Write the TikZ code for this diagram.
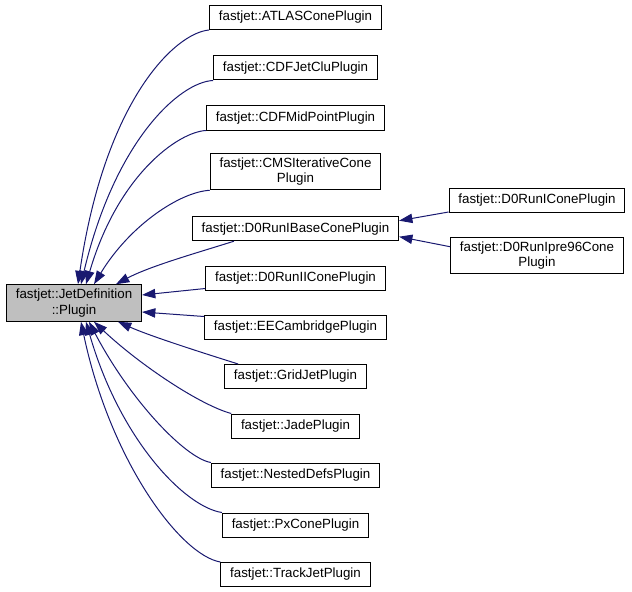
\documentclass[tikz,border=0pt]{standalone}
\usepackage{fontspec}
\setmainfont{Liberation Sans}
\usepackage{tikz}
\usetikzlibrary{arrows.meta,calc}
\definecolor{edgeblue}{RGB}{25,25,112}
\definecolor{rootgray}{RGB}{191,191,191}

\begin{document}
\begin{tikzpicture}[x=0.75pt,y=-0.75pt,
  cls/.style={draw=black,line width=0.75pt,rectangle,inner xsep=7pt,inner ysep=3.3pt,
    minimum height=18pt,align=center,font=\fontsize{10pt}{11.5pt}\selectfont},
  base/.style={cls,fill=rootgray},
  inh/.style={draw=edgeblue,line width=0.75pt,-{Triangle[length=10pt,width=7pt]}}]
\useasboundingbox (0,0) rectangle (632,592);
\node[base] (root) at (74,303) {fastjet::JetDefinition\\::Plugin};

\node[cls] (atlas) at (295.5,17.5) {fastjet::ATLASConePlugin};
\node[cls] (cdfclu) at (295.5,68) {fastjet::CDFJetCluPlugin};
\node[cls] (cdfmid) at (295.5,118) {fastjet::CDFMidPointPlugin};
\node[cls] (cms) at (295.5,171.5) {fastjet::CMSIterativeCone\\Plugin};
\node[cls] (d0base) at (295.5,228.7) {fastjet::D0RunIBaseConePlugin};
\node[cls] (d0ii) at (295.5,278) {fastjet::D0RunIIConePlugin};
\node[cls] (ee) at (295.5,327) {fastjet::EECambridgePlugin};
\node[cls] (grid) at (295.5,376.5) {fastjet::GridJetPlugin};
\node[cls] (jade) at (295.5,426) {fastjet::JadePlugin};
\node[cls] (nested) at (295.5,475) {fastjet::NestedDefsPlugin};
\node[cls] (px) at (295.5,525) {fastjet::PxConePlugin};
\node[cls] (trackjet) at (295.5,574.5) {fastjet::TrackJetPlugin};

\node[cls] (d0i) at (537,200.5) {fastjet::D0RunIConePlugin};
\node[cls] (d0pre) at (537,255.5) {fastjet::D0RunIpre96Cone\\Plugin};

% edges above the base class
\draw[inh] (atlas.south west) .. controls (175,33) and (105,100) .. ($(root.north west)+(72,0)$);
\draw[inh] (cdfclu.south west) .. controls (180,82) and (115,140) .. ($(root.north west)+(75,0)$);
\draw[inh] (cdfmid.south west) .. controls (178,132) and (118,175) .. ($(root.north west)+(80,0)$);
\draw[inh] (cms.south west) .. controls (180,192) and (130,225) .. ($(root.north west)+(88,0)$);
\draw[inh] ($(d0base.south west)+(42,0)$) .. controls (200,252) and (150,266) .. ($(root.north west)+(110,0)$);
% edges beside it
\draw[inh] ($(d0ii.south west)+(0,-2)$) -- ($(root.east)+(0,-8)$);
\draw[inh] ($(ee.north west)+(0,2)$) -- ($(root.east)+(0,9)$);
% edges below it
\draw[inh] ($(grid.north west)+(14,0)$) .. controls (200,352) and (150,336) .. ($(root.south west)+(112,0)$);
\draw[inh] (jade.north west) .. controls (200,405) and (140,365) .. ($(root.south west)+(88,0)$);
\draw[inh] (nested.north west) .. controls (185,458) and (130,400) .. ($(root.south west)+(83,0)$);
\draw[inh] (px.north west) .. controls (185,507) and (120,440) .. ($(root.south west)+(80,0)$);
\draw[inh] (trackjet.north west) .. controls (180,555) and (110,460) .. ($(root.south west)+(75,0)$);

% second level
\draw[inh] ($(d0i.south west)+(0,-1)$) -- ($(d0base.east)+(0,-8)$);
\draw[inh] ($(d0pre.north west)+(0,10)$) -- ($(d0base.east)+(0,8)$);
\end{tikzpicture}
\end{document}
